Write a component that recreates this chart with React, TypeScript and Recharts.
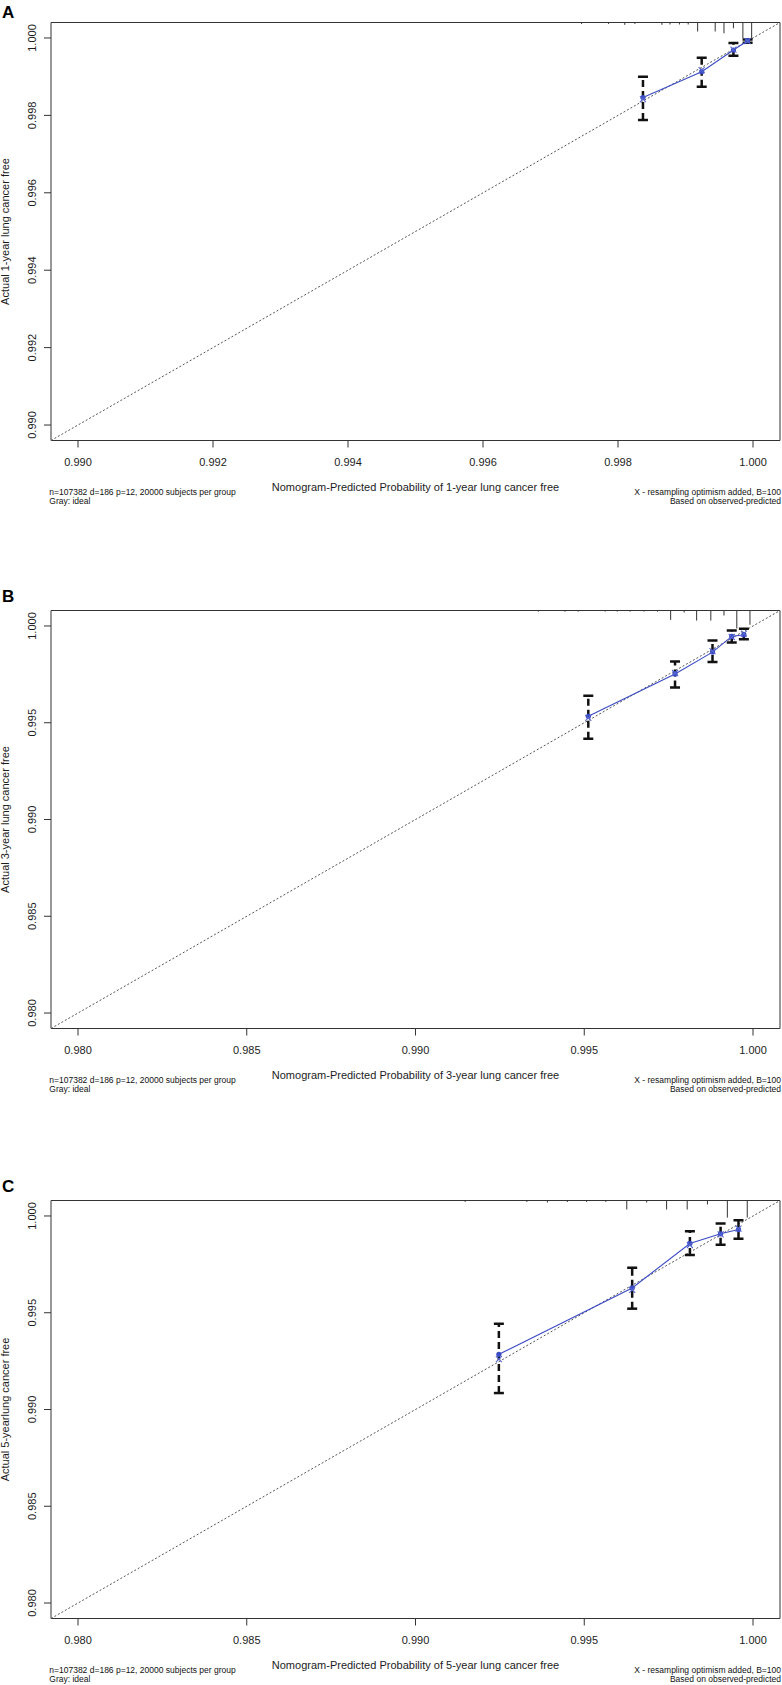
import React from "react";
import {
  ComposedChart,
  Scatter,
  XAxis,
  YAxis,
  ReferenceLine,
  ReferenceArea,
  ErrorBar,
} from "recharts";

// ---- Panel A: 1-year ----
const predA = [0.99837, 0.99924, 0.99971, 0.99992];
const obsA = [0.99846, 0.99913, 0.99969, 0.99993];
const corrA = [0.99842, 0.99917, 0.9997, 0.99992];
const lowA = [0.99788, 0.99874, 0.99954, 0.99988];
const highA = [0.999, 0.99949, 0.99987, 0.99996];
const rugXA = [0.99746, 0.99786, 0.9981, 0.99825, 0.99865, 0.99877, 0.99891, 0.99904, 0.99918, 0.99944, 0.99957, 0.99971, 0.99985, 0.99998];
const rugFreqA = [0.08, 0.08, 0.13, 0.08, 0.13, 0.11, 0.11, 0.11, 0.5, 0.5, 0.6, 0.32, 0.88, 0.88];
const ticksA = [0.99, 0.992, 0.994, 0.996, 0.998, 1.0];
const limA = [0.9896, 1.0004];

// ---- Panel B: 3-year ----
const predB = [0.99512, 0.99769, 0.9988, 0.99937, 0.99973];
const obsB = [0.99533, 0.99752, 0.99865, 0.99946, 0.99955];
const corrB = [0.99525, 0.99757, 0.9987, 0.99943, 0.9996];
const lowB = [0.99417, 0.99682, 0.99814, 0.99915, 0.99932];
const highB = [0.9964, 0.99817, 0.99925, 0.99977, 0.99986];
const rugXB = [0.99364, 0.99443, 0.99482, 0.99562, 0.99598, 0.99636, 0.99677, 0.99717, 0.99756, 0.99796, 0.99833, 0.99875, 0.99914, 0.99952, 0.99991];
const rugFreqB = [0.06, 0.07, 0.06, 0.06, 0.06, 0.06, 0.06, 0.06, 0.52, 0.11, 0.56, 0.56, 0.28, 1.0, 0.79];

// ---- Panel C: 5-year ----
const predC = [0.99247, 0.99642, 0.99813, 0.99904, 0.99957];
const obsC = [0.99285, 0.99628, 0.99858, 0.99908, 0.9993];
const corrC = [0.9926, 0.99618, 0.9985, 0.99905, 0.99935];
const lowC = [0.99085, 0.99521, 0.99798, 0.99851, 0.99882];
const highC = [0.99443, 0.99732, 0.99921, 0.99961, 0.99978];
const rugXC = [0.99147, 0.9933, 0.99391, 0.9945, 0.99507, 0.99564, 0.99626, 0.99685, 0.99744, 0.99805, 0.99865, 0.99924, 0.99983];
const rugFreqC = [0.08, 0.08, 0.11, 0.08, 0.08, 0.08, 0.5, 0.11, 0.5, 0.5, 0.22, 0.95, 0.95];

const ticksBC = [0.98, 0.985, 0.99, 0.995, 1.0];
const limBC = [0.9792, 1.0008];

const FONT = "'Liberation Sans', Arial, Helvetica, sans-serif";
const INK = "#1c1c1c";
const BLUE = "#3a4bc4";
const RUG_MAX = 18;

const XTick = ({ x, y, payload }: any) => (
  <text x={x} y={y + 16.5} textAnchor="middle" fontSize={11} fontFamily={FONT} fill={INK}>
    {Number(payload.value).toFixed(3)}
  </text>
);

const YTick = ({ x, y, payload }: any) => (
  <text
    x={x - 6}
    y={y}
    textAnchor="middle"
    fontSize={11}
    fontFamily={FONT}
    fill={INK}
    transform={`rotate(-90 ${x - 6} ${y})`}
  >
    {Number(payload.value).toFixed(3)}
  </text>
);

const Cap = (p: any) => (
  <line x1={p.cx - 5} x2={p.cx + 5} y1={p.cy} y2={p.cy} stroke="#111" strokeWidth={2.5} />
);

const Dot = (p: any) => <circle cx={p.cx} cy={p.cy} r={2.6} fill={BLUE} />;

const Cross = (p: any) => (
  <g stroke="#5565cf" strokeWidth={1.1}>
    <line x1={p.cx - 3} y1={p.cy - 3} x2={p.cx + 3} y2={p.cy + 3} />
    <line x1={p.cx - 3} y1={p.cy + 3} x2={p.cx + 3} y2={p.cy - 3} />
  </g>
);

const Rug = (p: any) => (
  <line
    x1={p.cx}
    x2={p.cx}
    y1={p.cy}
    y2={p.cy + p.payload.f * RUG_MAX}
    stroke="#333"
    strokeWidth={1}
  />
);

interface PanelProps {
  letter: string;
  top: number;
  letterBase: number;
  year: string;
  yLabel: string;
  pred: number[];
  obs: number[];
  corr: number[];
  low: number[];
  high: number[];
  rugX: number[];
  rugFreq: number[];
  ticks: number[];
  lim: number[];
}

function Panel(props: PanelProps) {
  const { pred, obs, corr, low, high, rugX, rugFreq, ticks, lim } = props;
  const obsData = pred.map((x, i) => ({ x, y: obs[i], err: [obs[i] - low[i], high[i] - obs[i]] }));
  const corrData = pred.map((x, i) => ({ x, y: corr[i] }));
  const capData = [
    ...pred.map((x, i) => ({ x, y: low[i] })),
    ...pred.map((x, i) => ({ x, y: high[i] })),
  ];
  const rugData = rugX.map((x, i) => ({ x, y: lim[1], f: rugFreq[i] }));

  return (
    <div style={{ position: "absolute", left: 0, top: props.top, width: 782, height: 520 }}>
      <ComposedChart
        width={782}
        height={470}
        margin={{ top: 22.5, right: 2, left: 0, bottom: 0 }}
      >
        <XAxis
          type="number"
          dataKey="x"
          domain={lim}
          ticks={ticks}
          allowDataOverflow
          axisLine={false}
          tickSize={7}
          tickLine={{ stroke: "#333" }}
          height={29.5}
          tick={<XTick />}
        />
        <YAxis
          type="number"
          dataKey="y"
          domain={lim}
          ticks={ticks}
          allowDataOverflow
          axisLine={false}
          tickSize={7}
          tickLine={{ stroke: "#333" }}
          width={51}
          tick={<YTick />}
        />
        <ReferenceArea
          x1={lim[0]}
          x2={lim[1]}
          y1={lim[0]}
          y2={lim[1]}
          fill="none"
          stroke="#333"
          strokeWidth={1}
          ifOverflow="visible"
        />
        <ReferenceLine
          segment={[
            { x: lim[0], y: lim[0] },
            { x: lim[1], y: lim[1] },
          ]}
          stroke="#555"
          strokeWidth={1}
          strokeDasharray="2 2"
        />
        <Scatter data={rugData} shape={Rug} isAnimationActive={false} />
        <Scatter data={obsData} shape={() => null} isAnimationActive={false}>
          <ErrorBar
            dataKey="err"
            direction="y"
            width={0}
            stroke="#111"
            strokeWidth={2.5}
            strokeDasharray="7 4"
            isAnimationActive={false}
          />
        </Scatter>
        <Scatter data={capData} shape={Cap} isAnimationActive={false} />
        <Scatter
          data={obsData}
          shape={Dot}
          line={{ stroke: BLUE, strokeWidth: 1.1 }}
          isAnimationActive={false}
        />
        <Scatter data={corrData} shape={Cross} isAnimationActive={false} />
      </ComposedChart>
      <svg
        width={782}
        height={520}
        style={{ position: "absolute", left: 0, top: 0, pointerEvents: "none" }}
        fontFamily={FONT}
      >
        <text x={2} y={props.letterBase} fontSize={17} fontWeight="bold" fill="#000">
          {props.letter}
        </text>
        <text
          x={9}
          y={231.5}
          fontSize={11}
          fill={INK}
          textAnchor="middle"
          transform="rotate(-90 9 231.5)"
        >
          {props.yLabel}
        </text>
        <text x={415.5} y={490.7} fontSize={11} fill={INK} textAnchor="middle">
          {`Nomogram-Predicted Probability of ${props.year} lung cancer free`}
        </text>
        <text x={49.3} y={494.5} fontSize={8.5} fill="#111">
          n=107382 d=186 p=12, 20000 subjects per group
        </text>
        <text x={49.3} y={504} fontSize={8.5} fill="#111">
          Gray: ideal
        </text>
        <text x={781} y={494.5} fontSize={8.5} fill="#111" textAnchor="end">
          X - resampling optimism added, B=100
        </text>
        <text x={781} y={504} fontSize={8.5} fill="#111" textAnchor="end">
          Based on observed-predicted
        </text>
      </svg>
    </div>
  );
}

export default function App() {
  return (
    <div
      style={{
        position: "absolute",
        left: 0,
        top: 0,
        width: 782,
        height: 1685,
        background: "#fff",
        overflow: "hidden",
      }}
    >
      <Panel
        letter="A"
        top={0}
        letterBase={18.3}
        year="1-year"
        yLabel="Actual 1-year lung cancer free"
        pred={predA}
        obs={obsA}
        corr={corrA}
        low={lowA}
        high={highA}
        rugX={rugXA}
        rugFreq={rugFreqA}
        ticks={ticksA}
        lim={limA}
      />
      <Panel
        letter="B"
        top={588}
        letterBase={13.7}
        year="3-year"
        yLabel="Actual 3-year lung cancer free"
        pred={predB}
        obs={obsB}
        corr={corrB}
        low={lowB}
        high={highB}
        rugX={rugXB}
        rugFreq={rugFreqB}
        ticks={ticksBC}
        lim={limBC}
      />
      <Panel
        letter="C"
        top={1178}
        letterBase={13.7}
        year="5-year"
        yLabel="Actual 5-yearlung cancer free"
        pred={predC}
        obs={obsC}
        corr={corrC}
        low={lowC}
        high={highC}
        rugX={rugXC}
        rugFreq={rugFreqC}
        ticks={ticksBC}
        lim={limBC}
      />
    </div>
  );
}
